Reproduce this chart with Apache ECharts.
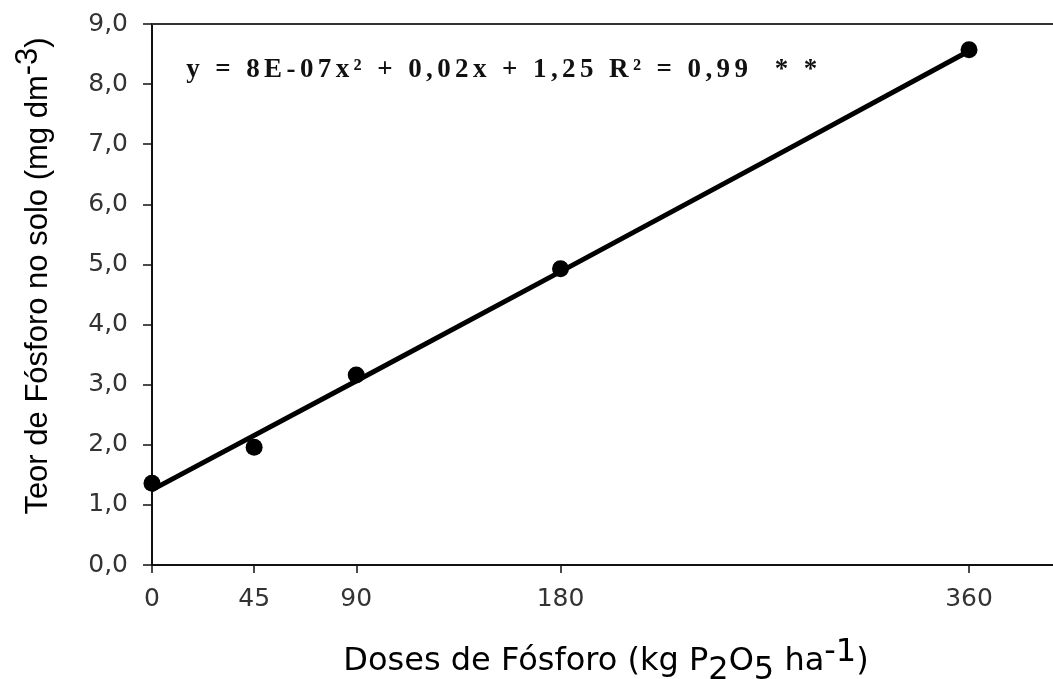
<!DOCTYPE html>
<html><head><meta charset="utf-8">
<script src="https://cdn.jsdelivr.net/npm/echarts@6/dist/echarts.min.js"></script>
<style>html,body{margin:0;padding:0;background:#fff}#c{width:1053px;height:679px}</style>
</head><body><div id="c"></div>
<script>
// Observed data (doses in kg P2O5/ha, soil P in mg/dm3)
const doses = [0, 45, 90, 180, 360];
const soilP = [1.36, 1.96, 3.16, 4.93, 8.57];
// Fitted trend line
const trendX = [0, 90, 180, 270, 360];
const trendY = [1.25, 3.06, 4.88, 6.71, 8.55];
const xTicks = [0, 45, 90, 180, 360];
const yTicks = [0, 1, 2, 3, 4, 5, 6, 7, 8, 9];
const equation = 'y = 8E-07x² + 0,02x + 1,25 R² = 0,99  * *';

const chart = echarts.init(document.getElementById('c'));
const sans = '"DejaVu Sans", Verdana, sans-serif';
const arial = '"Liberation Sans", Arial, sans-serif';
const eqRich = equation.split('').map(ch => '{c|' + ch + '}').join('');
chart.setOption({
  animation: false,
  grid: {left: 152, top: 24, right: 0, bottom: 114},
  xAxis: [{
    type: 'value', min: 0, max: 397, position: 'bottom',
    splitLine: {show: false},
    axisLine: {show: true, onZero: false, lineStyle: {color: '#111', width: 2}},
    axisTick: {show: true, customValues: xTicks, length: 8, lineStyle: {color: '#111', width: 1.5}},
    axisLabel: {customValues: xTicks, color: '#333', fontSize: 25, fontFamily: sans, margin: 22}
  }, {
    type: 'value', min: 0, max: 397, position: 'top',
    splitLine: {show: false},
    axisLine: {show: true, onZero: false, lineStyle: {color: '#333', width: 2}},
    axisTick: {show: false}, axisLabel: {show: false}
  }],
  yAxis: {
    type: 'value', min: 0, max: 9, interval: 1,
    splitLine: {show: false},
    axisLine: {show: true, onZero: false, lineStyle: {color: '#111', width: 2}},
    axisTick: {show: true, length: 9, lineStyle: {color: '#111', width: 1.5}},
    axisLabel: {color: '#333', fontSize: 25, fontFamily: sans, margin: 24,
      formatter: v => yTicks.includes(v) ? v.toFixed(1).replace('.', ',') : ''}
  },
  series: [{
    type: 'line', data: trendX.map((x, i) => [x, trendY[i]]),
    showSymbol: false, lineStyle: {color: '#000', width: 5}, silent: true, z: 2
  }, {
    type: 'scatter', data: doses.map((x, i) => [x, soilP[i]]),
    symbol: 'circle', symbolSize: 17, itemStyle: {color: '#000', opacity: 1}, z: 3
  }],
  graphic: [{
    type: 'text', x: 184, y: 70,
    style: {text: eqRich, align: 'left', verticalAlign: 'middle',
      rich: {c: {fontSize: 27, fontWeight: 'bold', fontFamily: '"Liberation Serif", "Times New Roman", serif',
        fill: '#111', padding: [0, 2.2, 0, 2.2]}}}
  }, {
    type: 'text', x: 606, y: 662,
    style: {
      text: '{n|Doses de Fósforo (kg P}{sub|2}{n|O}{sub|5}{n| ha}{sup|-1}{n|)}',
      align: 'center', verticalAlign: 'middle',
      rich: {
        n: {fontSize: 32, fontFamily: sans, fill: '#000', verticalAlign: 'middle', lineHeight: 50},
        sub: {fontSize: 32, fontFamily: sans, fill: '#000', verticalAlign: 'bottom', lineHeight: 38},
        sup: {fontSize: 32, fontFamily: sans, fill: '#000', verticalAlign: 'top', lineHeight: 16}
      }
    }
  }, {
    type: 'text', x: 38, y: 276, rotation: Math.PI / 2,
    style: {
      text: '{n|Teor de Fósforo no solo (mg dm}{sup|-3}{n|)}',
      align: 'center', verticalAlign: 'middle',
      rich: {
        n: {fontSize: 31, fontFamily: arial, fill: '#000', verticalAlign: 'middle', lineHeight: 50},
        sup: {fontSize: 31, fontFamily: arial, fill: '#000', verticalAlign: 'top', lineHeight: 16}
      }
    }
  }]
});
</script></body></html>
